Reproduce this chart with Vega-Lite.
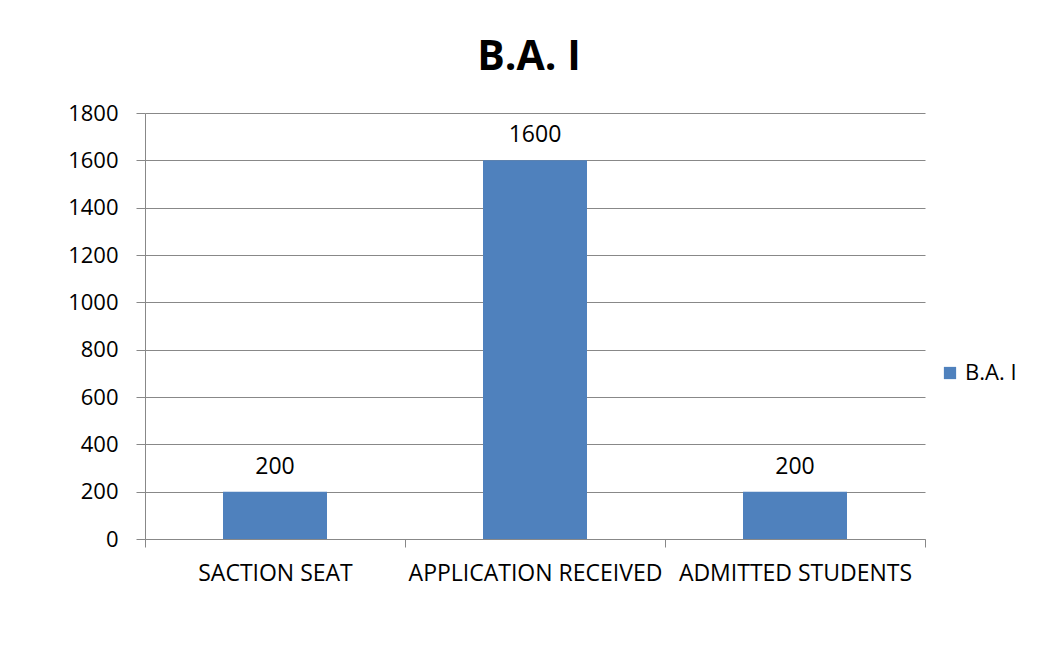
{
  "$schema": "https://vega.github.io/schema/vega-lite/v6.json",
  "autosize": {"type": "none"},
  "padding": {"left": 145, "top": 113, "right": 117, "bottom": 113},
  "width": 780,
  "height": 426,
  "background": "white",
  "title": {"text": "B.A. I", "fontSize": 41, "fontWeight": "bold", "font": "Open Sans", "color": "black", "anchor": "middle", "offset": 23, "dx": -6},
  "data": {"values": [
    {"category": "SACTION SEAT", "series": "B.A. I", "value": 200},
    {"category": "APPLICATION RECEIVED", "series": "B.A. I", "value": 1600},
    {"category": "ADMITTED STUDENTS", "series": "B.A. I", "value": 200}
  ]},
  "encoding": {
    "x": {"field": "category", "type": "nominal", "sort": null,
      "scale": {"paddingInner": 0, "paddingOuter": 0},
      "axis": {"title": null, "labelAngle": 0, "tickBand": "extent", "tickSize": 8, "tickColor": "#888", "domainColor": "#888", "labelFont": "Open Sans", "labelFontSize": 23, "labelColor": "black", "labelPadding": 15, "labelLimit": 0, "grid": false}},
    "y": {"field": "value", "type": "quantitative",
      "scale": {"domain": [0, 1800]},
      "axis": {"title": null, "format": "d", "values": [0, 200, 400, 600, 800, 1000, 1200, 1400, 1600, 1800], "tickSize": 9, "tickColor": "#888", "domainColor": "#888", "gridColor": "#888", "labelFont": "Open Sans", "labelFontSize": 22, "labelColor": "black", "labelPadding": 18}}
  },
  "layer": [
    {"mark": {"type": "bar", "color": "#4F81BD", "width": {"band": 0.4}},
     "encoding": {"color": {"field": "series", "type": "nominal", "scale": {"range": ["#4F81BD"]},
       "legend": {"title": null, "orient": "none", "legendX": 794, "legendY": 249, "symbolType": "square", "symbolSize": 150, "labelFont": "Open Sans", "labelFontSize": 22, "labelColor": "black", "symbolStrokeWidth": 0, "labelOffset": 4}}}},
    {"mark": {"type": "text", "baseline": "alphabetic", "dy": -18, "font": "Open Sans", "fontSize": 23, "color": "black"},
     "encoding": {"text": {"field": "value", "type": "quantitative"}}}
  ],
  "config": {"view": {"stroke": null}}
}
